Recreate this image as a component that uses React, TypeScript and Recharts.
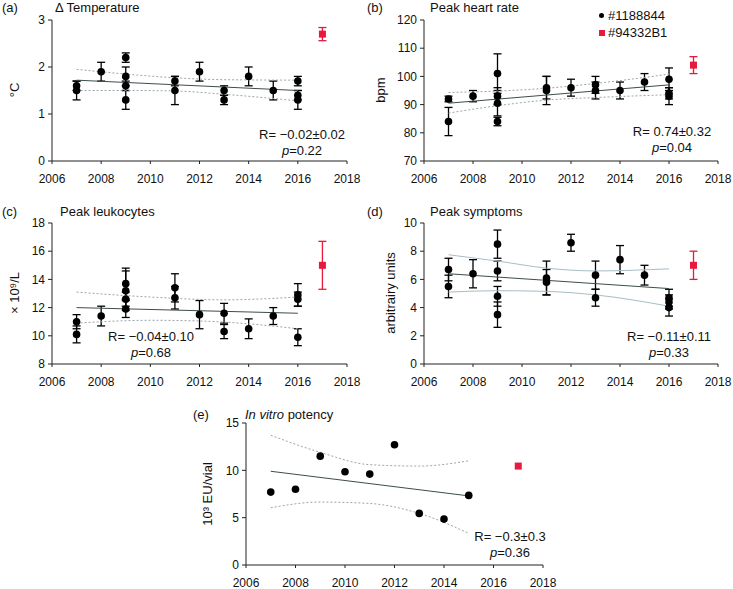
import { ComposedChart, Scatter, XAxis, YAxis, ErrorBar } from 'recharts';

const FONT = '"Liberation Sans", Arial, Helvetica, sans-serif';
const RED = '#e8193c';
const years = [2006, 2008, 2010, 2012, 2014, 2016, 2018];

// (a) delta temperature
const tempBlack = [
  { x: 2007, y: 1.6, e: 0.1 }, { x: 2007, y: 1.5, e: 0.2 },
  { x: 2008, y: 1.9, e: 0.2 },
  { x: 2009, y: 2.2, e: 0.1 }, { x: 2009, y: 1.8, e: 0.2 }, { x: 2009, y: 1.6, e: 0.1 }, { x: 2009, y: 1.3, e: 0.2 },
  { x: 2011, y: 1.7, e: 0.1 }, { x: 2011, y: 1.5, e: 0.3 },
  { x: 2012, y: 1.9, e: 0.2 },
  { x: 2013, y: 1.5, e: 0.1 }, { x: 2013, y: 1.3, e: 0.1 },
  { x: 2014, y: 1.8, e: 0.2 },
  { x: 2015, y: 1.5, e: 0.2 },
  { x: 2016, y: 1.7, e: 0.1 }, { x: 2016, y: 1.4, e: 0.1 }, { x: 2016, y: 1.3, e: 0.2 },
];
const tempRed = [{ x: 2017, y: 2.7, e: 0.14 }];
const tempFit = [{ x: 2007, y: 1.72 }, { x: 2016, y: 1.5 }];
const tempUpper = [{ x: 2007, y: 1.95 }, { x: 2009, y: 1.85 }, { x: 2011, y: 1.77 }, { x: 2013, y: 1.73 }, { x: 2016, y: 1.72 }];
const tempLower = [{ x: 2007, y: 1.5 }, { x: 2009, y: 1.5 }, { x: 2011, y: 1.49 }, { x: 2013, y: 1.42 }, { x: 2016, y: 1.28 }];

// (b) peak heart rate
const hrBlack = [
  { x: 2007, y: 92, e: 1 }, { x: 2007, y: 84, e: 5 },
  { x: 2008, y: 93, e: 2 },
  { x: 2009, y: 101, e: 7 }, { x: 2009, y: 93, e: 3 }, { x: 2009, y: 90.5, e: 4.5 }, { x: 2009, y: 84, e: 1.5 },
  { x: 2011, y: 96, e: 4 }, { x: 2011, y: 95, e: 5 },
  { x: 2012, y: 96, e: 3 },
  { x: 2013, y: 97, e: 3 }, { x: 2013, y: 95, e: 3 },
  { x: 2014, y: 95, e: 3 },
  { x: 2015, y: 98, e: 3 },
  { x: 2016, y: 99, e: 4 }, { x: 2016, y: 94, e: 2 }, { x: 2016, y: 93, e: 3 },
];
const hrRed = [{ x: 2017, y: 104, e: 3 }];
const hrFit = [{ x: 2007, y: 90.5 }, { x: 2016, y: 97 }];
const hrUpper = [{ x: 2007, y: 94.3 }, { x: 2009, y: 94.8 }, { x: 2011, y: 95.8 }, { x: 2013, y: 97.5 }, { x: 2016, y: 100.8 }];
const hrLower = [{ x: 2007, y: 87 }, { x: 2009, y: 89.6 }, { x: 2011, y: 91.6 }, { x: 2013, y: 92.5 }, { x: 2016, y: 93.5 }];

// (c) peak leukocytes
const wbcBlack = [
  { x: 2007, y: 11.0, e: 0.5 }, { x: 2007, y: 10.1, e: 0.6 },
  { x: 2008, y: 11.4, e: 0.7 },
  { x: 2009, y: 13.7, e: 1.1 }, { x: 2009, y: 13.2, e: 1.4 }, { x: 2009, y: 12.6, e: 0.5 }, { x: 2009, y: 11.9, e: 0.6 },
  { x: 2011, y: 13.4, e: 1.0 }, { x: 2011, y: 12.7, e: 0.8 },
  { x: 2012, y: 11.5, e: 1.0 },
  { x: 2013, y: 11.6, e: 0.7 }, { x: 2013, y: 10.3, e: 0.5 },
  { x: 2014, y: 10.5, e: 0.7 },
  { x: 2015, y: 11.4, e: 0.6 },
  { x: 2016, y: 12.9, e: 0.8 }, { x: 2016, y: 12.6, e: 0.5 }, { x: 2016, y: 9.9, e: 0.6 },
];
const wbcRed = [{ x: 2017, y: 15, e: 1.7 }];
const wbcFit = [{ x: 2007, y: 12.0 }, { x: 2016, y: 11.6 }];
const wbcUpper = [{ x: 2007, y: 13.1 }, { x: 2010, y: 12.75 }, { x: 2013, y: 12.55 }, { x: 2016, y: 12.75 }];
const wbcLower = [{ x: 2007, y: 10.9 }, { x: 2010, y: 11.1 }, { x: 2012, y: 11.05 }, { x: 2014, y: 10.85 }, { x: 2016, y: 10.5 }];

// (d) peak symptoms
const sympBlack = [
  { x: 2007, y: 6.7, e: 0.8 }, { x: 2007, y: 5.5, e: 0.8 },
  { x: 2008, y: 6.4, e: 1.0 },
  { x: 2009, y: 8.5, e: 1.0 }, { x: 2009, y: 6.6, e: 0.7 }, { x: 2009, y: 4.8, e: 0.7 }, { x: 2009, y: 3.5, e: 0.9 },
  { x: 2011, y: 6.1, e: 1.2 }, { x: 2011, y: 5.8, e: 0.9 },
  { x: 2012, y: 8.6, e: 0.6 },
  { x: 2013, y: 6.3, e: 1.0 }, { x: 2013, y: 4.7, e: 0.6 },
  { x: 2014, y: 7.4, e: 1.0 },
  { x: 2015, y: 6.3, e: 0.7 },
  { x: 2016, y: 4.7, e: 0.6 }, { x: 2016, y: 4.4, e: 0.5 }, { x: 2016, y: 4.0, e: 0.6 },
];
const sympRed = [{ x: 2017, y: 7.0, e: 1.0 }];
const sympFit = [{ x: 2007, y: 6.4 }, { x: 2016, y: 5.35 }];
const sympUpper = [{ x: 2007, y: 7.75 }, { x: 2009, y: 7.3 }, { x: 2011, y: 6.8 }, { x: 2013, y: 6.6 }, { x: 2016, y: 6.75 }];
const sympLower = [{ x: 2007, y: 5.1 }, { x: 2009, y: 5.2 }, { x: 2011, y: 5.15 }, { x: 2013, y: 4.9 }, { x: 2016, y: 4.1 }];

// (e) in vitro potency
const potBlack = [
  { x: 2007, y: 7.7 }, { x: 2008, y: 8.0 }, { x: 2009, y: 11.5 }, { x: 2010, y: 9.85 },
  { x: 2011, y: 9.6 }, { x: 2012, y: 12.7 }, { x: 2013, y: 5.45 }, { x: 2014, y: 4.85 }, { x: 2015, y: 7.35 },
];
const potRed = [{ x: 2017, y: 10.45 }];
const potFit = [{ x: 2007, y: 9.9 }, { x: 2015, y: 7.3 }];
const potUpper = [{ x: 2007, y: 13.7 }, { x: 2009, y: 11.9 }, { x: 2011, y: 10.6 }, { x: 2013, y: 10.45 }, { x: 2015, y: 11.0 }];
const potLower = [{ x: 2007, y: 6.05 }, { x: 2009, y: 6.65 }, { x: 2011, y: 6.5 }, { x: 2013, y: 5.45 }, { x: 2015, y: 3.35 }];

const noShape = () => <g />;
const dot = (p: any) => <circle cx={p.cx} cy={p.cy} r={3.8} fill="#000" />;
const square = (p: any) => <rect x={p.cx - 3.5} y={p.cy - 3.5} width={7} height={7} fill={RED} />;

const Panel = ({ left, top, w, h, domain, ticks, black, red, fit, upper, lower, solidBand, errors }: any) => {
  const bandColor = solidBand ? '#a9bcc6' : '#9aa6ac';
  const bandLine = { stroke: bandColor, strokeWidth: 1, strokeDasharray: solidBand ? undefined : '2 2' };
  return (
    <div style={{ position: 'absolute', left: left - 60, top: top - 10 }}>
      <ComposedChart width={w + 80} height={h + 40} margin={{ top: 10, right: 20, bottom: 0, left: 0 }}>
        <XAxis type="number" dataKey="x" domain={[2006, 2018]} ticks={years} interval={0} height={30}
          tickSize={3} tickMargin={10} stroke="#222" tick={{ fontSize: 12, fill: '#111' }} allowDataOverflow />
        <YAxis type="number" dataKey="y" domain={domain} ticks={ticks} interval={0} width={60}
          tickSize={4} tickMargin={3} stroke="#222" tick={{ fontSize: 12, fill: '#111' }} allowDataOverflow />
        <Scatter data={upper} line={bandLine} lineJointType="monotoneX" shape={noShape} isAnimationActive={false} />
        <Scatter data={lower} line={bandLine} lineJointType="monotoneX" shape={noShape} isAnimationActive={false} />
        <Scatter data={fit} line={{ stroke: '#3e4c4c', strokeWidth: 1 }} shape={noShape} isAnimationActive={false} />
        <Scatter data={black} shape={dot} isAnimationActive={false}>
          {errors && <ErrorBar dataKey="e" direction="y" width={4} stroke="#000" strokeWidth={1.3} />}
        </Scatter>
        <Scatter data={red} shape={square} isAnimationActive={false}>
          {errors && <ErrorBar dataKey="e" direction="y" width={4} stroke={RED} strokeWidth={1.3} />}
        </Scatter>
      </ComposedChart>
    </div>
  );
};

const Text = ({ x, y, children, style }: any) => (
  <div style={{ position: 'absolute', left: x, top: y, fontSize: 13, lineHeight: '16px', whiteSpace: 'nowrap', ...style }}>
    {children}
  </div>
);

const YLabel = ({ cx, cy, children }: any) => (
  <div style={{ position: 'absolute', left: cx, top: cy, fontSize: 13, whiteSpace: 'nowrap', transform: 'translate(-50%, -50%) rotate(-90deg)' }}>
    {children}
  </div>
);

const Stats = ({ cx, y, r, p }: any) => (
  <div style={{ position: 'absolute', left: cx - 70, top: y - 8, width: 140, textAlign: 'center', fontSize: 13, lineHeight: '16px' }}>
    <div>R= {r}</div>
    <div><i>p</i>={p}</div>
  </div>
);

const App = () => {
  return (
    <div style={{ position: 'absolute', left: 0, top: 0, width: 733, height: 589, background: '#fff', fontFamily: FONT, color: '#111' }}>
      {/* (a) */}
      <Text x={2} y={0}>(a)</Text>
      <Text x={55} y={0}>Δ Temperature</Text>
      <YLabel cx={14} cy={90}>°C</YLabel>
      <Panel left={52} top={20} w={295} h={141} domain={[0, 3]} ticks={[0, 1, 2, 3]}
        black={tempBlack} red={tempRed} fit={tempFit} upper={tempUpper} lower={tempLower} errors />
      <Stats cx={302} y={135} r="−0.02±0.02" p="0.22" />

      {/* (b) */}
      <Text x={367} y={0}>(b)</Text>
      <Text x={430} y={0}>Peak heart rate</Text>
      <YLabel cx={380} cy={90}>bpm</YLabel>
      <Panel left={424} top={20} w={294} h={141} domain={[70, 120]} ticks={[70, 80, 90, 100, 110, 120]}
        black={hrBlack} red={hrRed} fit={hrFit} upper={hrUpper} lower={hrLower} errors />
      <Stats cx={672} y={132} r="0.74±0.32" p="0.04" />
      <div style={{ position: 'absolute', left: 599, top: 13, width: 5, height: 5, borderRadius: '50%', background: '#000' }} />
      <Text x={608} y={8}>#1188844</Text>
      <div style={{ position: 'absolute', left: 599, top: 30, width: 6, height: 6, background: RED }} />
      <Text x={608} y={25}>#94332B1</Text>

      {/* (c) */}
      <Text x={2} y={204}>(c)</Text>
      <Text x={60} y={204}>Peak leukocytes</Text>
      <YLabel cx={14} cy={293}>× 10⁹/L</YLabel>
      <Panel left={52} top={223} w={295} h={141} domain={[8, 18]} ticks={[8, 10, 12, 14, 16, 18]}
        black={wbcBlack} red={wbcRed} fit={wbcFit} upper={wbcUpper} lower={wbcLower} errors />
      <Stats cx={151} y={337} r="−0.04±0.10" p="0.68" />

      {/* (d) */}
      <Text x={367} y={204}>(d)</Text>
      <Text x={430} y={204}>Peak symptoms</Text>
      <YLabel cx={390} cy={293}>arbitrairy units</YLabel>
      <Panel left={424} top={223} w={294} h={141} domain={[0, 10]} ticks={[0, 2, 4, 6, 8, 10]}
        black={sympBlack} red={sympRed} fit={sympFit} upper={sympUpper} lower={sympLower} errors solidBand />
      <Stats cx={669} y={337} r="−0.11±0.11" p="0.33" />

      {/* (e) */}
      <Text x={193} y={407}>(e)</Text>
      <Text x={245} y={407}><i>In vitro</i> potency</Text>
      <YLabel cx={207} cy={494}>10³ EU/vial</YLabel>
      <Panel left={246} top={423} w={297} h={142} domain={[0, 15]} ticks={[0, 5, 10, 15]}
        black={potBlack} red={potRed} fit={potFit} upper={potUpper} lower={potLower} />
      <Stats cx={510} y={537} r="−0.3±0.3" p="0.36" />
    </div>
  );
};

export default App;
